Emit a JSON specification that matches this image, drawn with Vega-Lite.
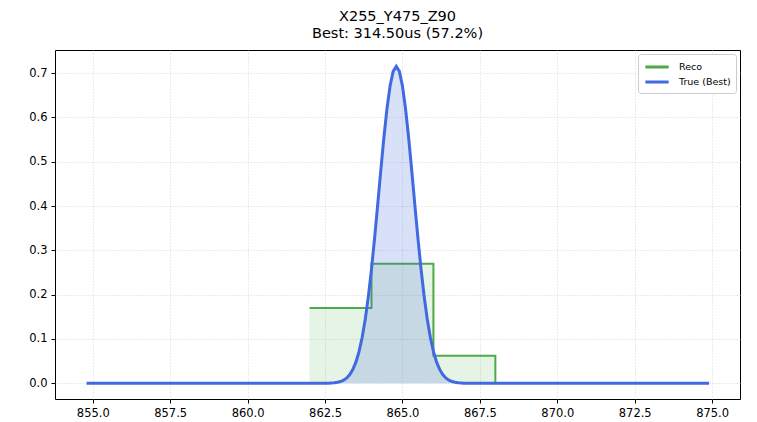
{
  "$schema": "https://vega.github.io/schema/vega-lite/v6.json",
  "width": 685,
  "height": 349,
  "autosize": "none",
  "padding": {"left": 55, "top": 50, "right": 17, "bottom": 23},
  "background": "white",
  "title": {
    "text": ["X255_Y475_Z90", "Best: 314.50us (57.2%)"],
    "font": "DejaVu Sans",
    "fontSize": 14.5,
    "fontWeight": "normal",
    "color": "black",
    "anchor": "middle",
    "lineHeight": 17,
    "offset": 9
  },
  "config": {
    "view": {"stroke": "black", "strokeWidth": 1},
    "axis": {
      "labelFont": "DejaVu Sans",
      "labelFontSize": 11.5,
      "labelColor": "black",
      "labelPadding": 4,
      "domain": false,
      "tickColor": "black",
      "tickSize": 4,
      "tickWidth": 1,
      "gridColor": "#cccccc",
      "gridDash": [1, 2],
      "gridWidth": 0.8,
      "title": null
    },
    "legend": {
      "orient": "top-right",
      "offset": 4,
      "labelFont": "DejaVu Sans",
      "labelFontSize": 9.5,
      "labelColor": "black",
      "labelOffset": 14,
      "symbolType": "M-1.9,0L1.9,0",
      "symbolSize": 150,
      "symbolOffset": 6,
      "symbolStrokeWidth": 3,
      "symbolFillColor": "transparent",
      "strokeColor": "#cccccc",
      "fillColor": "white",
      "cornerRadius": 3,
      "padding": 5,
      "rowPadding": 1,
      "title": null
    }
  },
  "datasets": {
    "reco": [
      {"t": 862, "v": 0.17},
      {"t": 864, "v": 0.27},
      {"t": 866, "v": 0.062},
      {"t": 868, "v": 0}
    ],
    "truth": [
      {"t": 854.8, "v": 0},
      {"t": 862.3, "v": 0.00003},
      {"t": 862.6, "v": 0.00032},
      {"t": 862.8, "v": 0.00121},
      {"t": 862.9, "v": 0.00226},
      {"t": 863.0, "v": 0.00408},
      {"t": 863.1, "v": 0.00713},
      {"t": 863.2, "v": 0.0121},
      {"t": 863.3, "v": 0.0198},
      {"t": 863.4, "v": 0.0314},
      {"t": 863.5, "v": 0.0483},
      {"t": 863.6, "v": 0.0720},
      {"t": 863.7, "v": 0.1039},
      {"t": 863.8, "v": 0.1452},
      {"t": 863.9, "v": 0.1965},
      {"t": 864.0, "v": 0.2577},
      {"t": 864.1, "v": 0.3273},
      {"t": 864.2, "v": 0.4027},
      {"t": 864.3, "v": 0.4800},
      {"t": 864.4, "v": 0.5540},
      {"t": 864.5, "v": 0.6194},
      {"t": 864.6, "v": 0.6708},
      {"t": 864.7, "v": 0.7037},
      {"t": 864.8, "v": 0.715},
      {"t": 864.9, "v": 0.7037},
      {"t": 865.0, "v": 0.6708},
      {"t": 865.1, "v": 0.6194},
      {"t": 865.2, "v": 0.5540},
      {"t": 865.3, "v": 0.4800},
      {"t": 865.4, "v": 0.4027},
      {"t": 865.5, "v": 0.3273},
      {"t": 865.6, "v": 0.2577},
      {"t": 865.7, "v": 0.1965},
      {"t": 865.8, "v": 0.1452},
      {"t": 865.9, "v": 0.1039},
      {"t": 866.0, "v": 0.0720},
      {"t": 866.1, "v": 0.0483},
      {"t": 866.2, "v": 0.0314},
      {"t": 866.3, "v": 0.0198},
      {"t": 866.4, "v": 0.0121},
      {"t": 866.5, "v": 0.00713},
      {"t": 866.6, "v": 0.00408},
      {"t": 866.7, "v": 0.00226},
      {"t": 866.8, "v": 0.00121},
      {"t": 867.0, "v": 0.00032},
      {"t": 867.3, "v": 0.00003},
      {"t": 874.9, "v": 0}
    ]
  },
  "encoding": {
    "x": {
      "field": "t",
      "type": "quantitative",
      "scale": {"domain": [853.78, 875.9], "nice": false, "zero": false},
      "axis": {"values": [855, 857.5, 860, 862.5, 865, 867.5, 870, 872.5, 875], "format": ".1f", "grid": true}
    },
    "y": {
      "field": "v",
      "type": "quantitative",
      "scale": {"domain": [-0.0354, 0.752], "nice": false, "zero": false},
      "axis": {"values": [0, 0.1, 0.2, 0.3, 0.4, 0.5, 0.6, 0.7], "format": ".1f", "grid": true}
    }
  },
  "layer": [
    {
      "data": {"name": "reco"},
      "mark": {"type": "area", "interpolate": "step-after", "color": "#4daf4a", "opacity": 0.14}
    },
    {
      "data": {"name": "reco"},
      "mark": {"type": "line", "interpolate": "step-after", "strokeWidth": 2},
      "encoding": {
        "color": {"datum": "Reco", "type": "nominal", "scale": {"domain": ["Reco", "True (Best)"], "range": ["#4caa48", "#4169e1"]}}
      }
    },
    {
      "data": {"name": "truth"},
      "mark": {"type": "area", "color": "#4169e1", "opacity": 0.2}
    },
    {
      "data": {"name": "truth"},
      "mark": {"type": "line", "strokeWidth": 3},
      "encoding": {
        "color": {"datum": "True (Best)", "type": "nominal"}
      }
    }
  ]
}
